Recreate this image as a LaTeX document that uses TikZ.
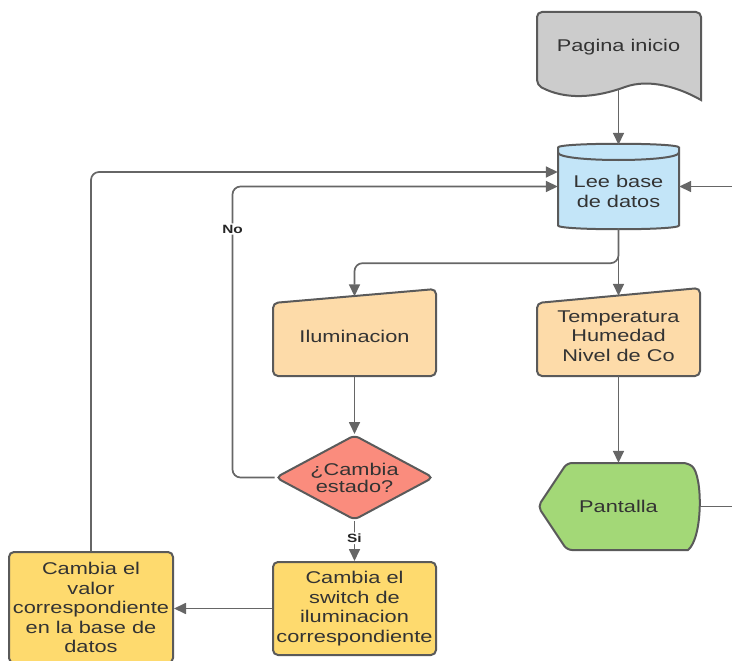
\documentclass[tikz,border=0pt]{standalone}
\usepackage{fontspec}
\setmainfont{Liberation Sans}[FakeStretch=1.28]
\usetikzlibrary{shapes.geometric,arrows.meta}
\definecolor{edgegray}{HTML}{5A5A5A}
\definecolor{linegray}{HTML}{666666}
\definecolor{textgray}{HTML}{333333}
\definecolor{docgray}{HTML}{CCCCCC}
\definecolor{dbblue}{HTML}{C3E5F8}
\definecolor{inpeach}{HTML}{FDDBA9}
\definecolor{decred}{HTML}{FA8C7D}
\definecolor{dispgreen}{HTML}{A3D877}
\definecolor{actyellow}{HTML}{FEDA6E}
\begin{document}
\begin{tikzpicture}[x=1pt,y=-1pt,
  every node/.style={text=textgray,font=\fontsize{17}{19.5}\selectfont,align=center,inner sep=2pt},
  box/.style={draw=edgegray,line width=2pt,rounded corners=5pt},
  arr/.style={draw=linegray,line width=1.7pt,rounded corners=8pt,-{Triangle[length=12pt,width=11pt]}},
  plain/.style={draw=linegray,line width=1.7pt},
  lbl/.style={fill=white,text=black!85,font=\bfseries\fontsize{12}{12}\selectfont,inner sep=1.5pt}]
\useasboundingbox (0,0) rectangle (732,661);
% outlines of the symbols
\draw[box,fill=docgray] (701,100) -- (701,12) -- (537,12) -- (537,85) [sharp corners]
  .. controls (565,100) and (595,98) .. (625,87) .. controls (650,78) and (680,88) .. (701,100) -- cycle;
\draw[box,fill=dbblue] (558,152.5) -- (558,220.5) .. controls (558,230.5) and (679,230.5) .. (679,220.5)
  -- (679,152.5) .. controls (679,142.5) and (558,142.5) .. (558,152.5) -- cycle;
\draw[edgegray,line width=2pt] (558,152.5) .. controls (558,162.5) and (679,162.5) .. (679,152.5);
\draw[box,fill=inpeach] (273,303) -- (436,289) -- (436,376) -- (273,376) -- cycle;
\draw[box,fill=inpeach] (537,303) -- (700,288) -- (700,376) -- (537,376) -- cycle;
\draw[box,fill=dispgreen] (538,506.5) -- (567,463) -- (688,463) [sharp corners]
  .. controls (703,475) and (703,538) .. (688,550) [rounded corners=5pt] -- (567,550) -- cycle;
% nodes
\node[minimum width=164pt,minimum height=76pt,label={[yshift=3pt]center:Pagina inicio}] (pag) at (618.5,50) {};
\node[minimum width=121pt,minimum height=83pt,label={[yshift=-5pt]center:{Lee base\\de datos}}] (db) at (618.5,186.5) {};
\node[minimum width=163pt,minimum height=80pt] (ilu) at (354.5,336.5) {Iluminacion};
\node[minimum width=163pt,minimum height=80pt] (sens) at (618.5,336) {Temperatura\\Humedad\\Nivel de Co};
\node[diamond,box,fill=decred,aspect=1.86,inner sep=0pt,minimum width=158pt,minimum height=85pt,
  font=\fontsize{17}{17}\selectfont] (dec) at (354.5,477.5) {¿Cambia\\estado?};
\node[minimum width=162pt,minimum height=87pt] (disp) at (618.5,506.5) {Pantalla};
\node[box,fill=actyellow,minimum width=163pt,minimum height=93pt] (sw) at (354.5,608.5)
  {Cambia el\\switch de\\iluminacion\\correspondiente};
\node[box,fill=actyellow,minimum width=164pt,minimum height=111pt] (upd) at (91,607.5)
  {Cambia el\\valor\\correspondiente\\en la base de\\datos};
\coordinate (rin) at (740,186.5);
\coordinate (rout) at (740,506.5);
% connectors
\draw[arr] (pag.south) -- (db.north);
\draw[arr] (db.south) -- (sens.north);
\draw[arr] (db.south) -- ++(0,35) -| (ilu.north);
\draw[arr] (ilu.south) -- (dec.north);
\draw[arr] (sens.south) -- (disp.north);
\draw[arr] (dec.south) -- (sw.north) node[lbl,pos=0.43] {Si};
\draw[arr] (dec.west) -- ++(-42,0) |- (db.west) node[lbl,pos=0.427] {No};
\draw[arr] (sw.west) -- (sw.west -| upd.east);
\draw[arr] (upd.north) |- ([yshift=14.5pt]db.west);
\draw[arr] (rin) -- (db.east);
\draw[plain] (disp.east) -- (rout);
\end{tikzpicture}
\end{document}
